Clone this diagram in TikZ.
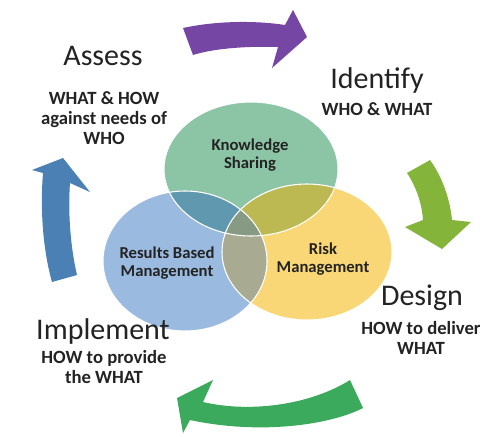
\documentclass[tikz,border=0pt]{standalone}
\usepackage{xcolor}
\usepackage{fontspec}
\setmainfont{Carlito}
\usepackage{tikz}

\definecolor{kgreen}{RGB}{140,196,166}
\definecolor{rblue}{RGB}{155,186,224}
\definecolor{ryellow}{RGB}{249,215,118}
\definecolor{gbmix}{RGB}{96,152,176}
\definecolor{gymix}{RGB}{188,184,82}
\definecolor{bymix}{RGB}{168,170,146}
\definecolor{allmix}{RGB}{134,154,132}
\definecolor{apurple}{RGB}{118,70,164}
\definecolor{alime}{RGB}{132,180,58}
\definecolor{ablue}{RGB}{74,128,180}
\definecolor{agreen}{RGB}{60,170,92}
\definecolor{txt}{RGB}{35,35,35}

\tikzset{
  stage/.style={inner sep=0.75pt,text=txt,font=\fontsize{22.5}{26}\selectfont},
  stagetext/.style={inner sep=0.75pt,text=txt,align=center,font=\fontsize{14}{15}\selectfont\bfseries},
  venntext/.style={inner sep=0.75pt,text=txt,align=center,font=\fontsize{12.5}{13.5}\selectfont\bfseries}
}

\begin{document}
\begin{tikzpicture}[x=0.75pt,y=0.75pt,yscale=-1,xscale=1]
\useasboundingbox (0,0) rectangle (498,436);
\fill[white] (0,0) rectangle (498,436);

%Ellipses
\fill[kgreen] (251,169) ellipse (87 and 67);
\fill[rblue] (185,261) ellipse (82 and 70);
\fill[ryellow] (307,252) ellipse (85 and 68);
\begin{scope}
\clip (251,169) ellipse (87 and 67);
\fill[gbmix] (185,261) ellipse (82 and 70);
\end{scope}
\begin{scope}
\clip (251,169) ellipse (87 and 67);
\fill[gymix] (307,252) ellipse (85 and 68);
\end{scope}
\begin{scope}
\clip (185,261) ellipse (82 and 70);
\fill[bymix] (307,252) ellipse (85 and 68);
\end{scope}
\begin{scope}
\clip (251,169) ellipse (87 and 67);
\clip (185,261) ellipse (82 and 70);
\fill[allmix] (307,252) ellipse (85 and 68);
\end{scope}
\draw[white,line width=0.8pt] (251,169) ellipse (87 and 67);
\draw[white,line width=0.8pt] (185,261) ellipse (82 and 70);
\draw[white,line width=0.8pt] (307,252) ellipse (85 and 68);

%Curved Arrows
\fill[apurple] (183,28) .. controls (220,20) and (260,21) .. (285,25) -- (293,10) -- (307,37) -- (272,68) -- (278,47) .. controls (250,46) and (215,48) .. (193,55) -- cycle;
\fill[alime] (407,173) -- (430,160) .. controls (443,178) and (450,200) .. (452,220) -- (471,222) -- (442,249) -- (405,227) -- (423,220) .. controls (422,205) and (417,188) .. (407,173) -- cycle;
\fill[agreen] (350,380) -- (363,408) .. controls (330,425) and (260,435) .. (190,420) -- (183,433) -- (177,398) -- (213,380) -- (203,402) .. controls (250,413) and (310,405) .. (350,380) -- cycle;
\fill[ablue] (52,282) -- (77,275) .. controls (70,245) and (68,210) .. (70,183) -- (90,192) -- (63,158) -- (32,170) -- (43,173) .. controls (40,210) and (43,250) .. (52,282) -- cycle;

% Text Node
\node[venntext] (knowledge) at (250,155) {Knowledge\\Sharing};
% Text Node
\node[venntext] (results) at (167,263) {Results Based\\Management};
% Text Node
\node[venntext] (risk) at (323,259) {Risk\\Management};

% Text Node
\node[stage] (assess) at (103,56) {Assess};
% Text Node
\node[stagetext] (assessw) at (104,118) {WHAT \& HOW\\against needs of\\WHO};
% Text Node
\node[stage] (identify) at (377,80) {Identify};
% Text Node
\node[stagetext] (identifyw) at (377,109) {WHO \& WHAT};
% Text Node
\node[stage] (design) at (422,298) {Design};
% Text Node
\node[stagetext] (designw) at (421,338) {HOW to deliver\\WHAT};
% Text Node
\node[stage] (implement) at (103,331) {Implement};
% Text Node
\node[stagetext] (implementw) at (104,367) {HOW to provide\\the WHAT};

\end{tikzpicture}
\end{document}
